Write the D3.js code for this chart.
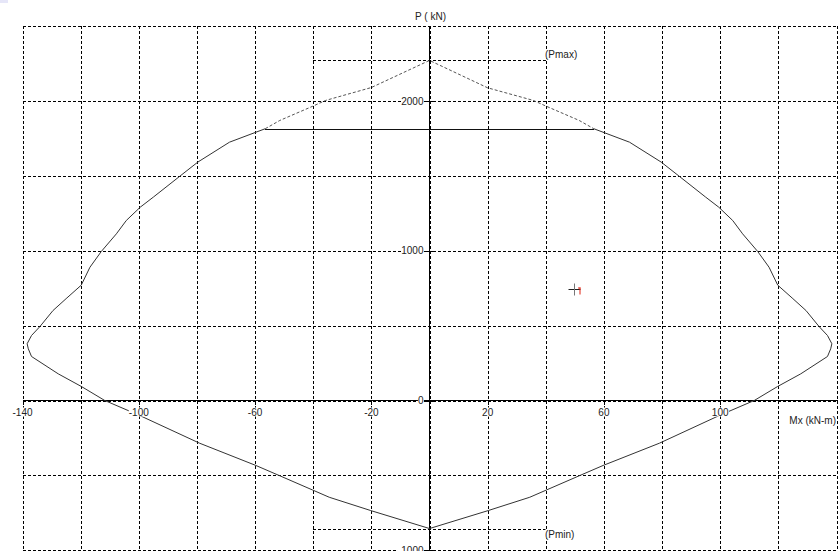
<!DOCTYPE html>
<html><head><meta charset="utf-8">
<script src="https://cdn.jsdelivr.net/npm/d3@7"></script>
<style>html,body{margin:0;padding:0;background:#fff;}svg{display:block;}</style>
</head><body>
<svg id="c" width="838" height="551"></svg>
<script>
// ---- data ----
const curveM = [56.5, 68.8, 79.7, 86, 95, 99.5, 104.3, 107.7, 112.9, 116.8, 119.8, 125, 129.5, 134, 136.9, 138.4, 138, 136.9, 127.7, 119.7, 111.7, 99.7, 79.1, 59.7, 51.7, 40.3, 34.5, 20.2, 0,
  -20.2, -34.5, -40.3, -51.7, -59.7, -79.1, -99.7, -111.7, -119.7, -127.7, -136.9, -138, -138.4, -136.9, -134, -129.5, -125, -119.8, -116.8, -112.9, -107.7, -104.3, -99.5, -95, -86, -79.7, -68.8, -56.5];
const curveP = [1815, 1725, 1592, 1496, 1358, 1291, 1202, 1113, 995, 890, 770, 680, 601, 494, 434, 379, 345, 294, 178, 93, 0, -100, -285, -434, -501, -597, -646, -735, -855,
  -735, -646, -597, -501, -434, -285, -100, 0, 93, 178, 294, 345, 379, 434, 494, 601, 680, 770, 890, 995, 1113, 1202, 1291, 1358, 1496, 1592, 1725, 1815];
const capM = [-56.5, 56.5];
const capP = [1815, 1815];
const topM = [-56.5, -51.5, -40.3, -35.7, -20, 0, 20, 35.7, 40.3, 51.5, 56.5];
const topP = [1815, 1870, 1964, 2004, 2090, 2271, 2088, 2004, 1964, 1870, 1815];
const Pmax = 2271, Pmin = -855;
const limitM = [-40, 40];
const pointM = [49.8], pointP = [746];
const xTicks = [-140, -100, -60, -20, 20, 60, 100];
const yTicks = [2000, 1000, 0, -1000];
const xGrid = d3.range(-140, 141, 20);
const yGrid = d3.range(-1000, 2501, 500);
const xTitle = "Mx (kN-m)", yTitle = "P ( kN)";

// ---- scales ----
const svg = d3.select("#c");
const x = d3.scaleLinear().domain([-140, 140]).range([22.5, 836.5]);
const y = d3.scaleLinear().domain([0, 2000]).range([400.5, 101]);
const font = "Liberation Sans, Arial, sans-serif";

svg.append("rect").attr("x",0).attr("y",0).attr("width",8).attr("height",3).attr("fill","#e6e6f8");

// grid
const dash = "3,2";
svg.append("g").selectAll("line").data(xGrid).join("line")
  .attr("x1", d => Math.round(x(d)) + 0.5).attr("x2", d => Math.round(x(d)) + 0.5)
  .attr("y1", y(2500)).attr("y2", 551)
  .attr("stroke", "#000").attr("stroke-dasharray", dash).attr("shape-rendering","crispEdges");
svg.append("g").selectAll("line").data(yGrid).join("line")
  .attr("x1", x(-140)).attr("x2", 838)
  .attr("y1", d => Math.round(y(d)) + 0.5).attr("y2", d => Math.round(y(d)) + 0.5)
  .attr("stroke", "#000").attr("stroke-dasharray", dash).attr("shape-rendering","crispEdges");

// Pmax/Pmin limit lines
[Pmax, Pmin].forEach(p => {
  svg.append("line").attr("x1", x(limitM[0])).attr("x2", x(limitM[1]))
    .attr("y1", Math.round(y(p)) + 0.5).attr("y2", Math.round(y(p)) + 0.5)
    .attr("stroke", "#000").attr("stroke-dasharray", dash).attr("shape-rendering","crispEdges");
});

// axes
svg.append("line").attr("x1", x(-140)).attr("x2", 838).attr("y1", y(0)).attr("y2", y(0))
  .attr("stroke", "#000").attr("shape-rendering","crispEdges");
svg.append("line").attr("x1", x(0)).attr("x2", x(0)).attr("y1", y(2500)).attr("y2", 551)
  .attr("stroke", "#000").attr("shape-rendering","crispEdges");
svg.append("g").selectAll("line").data(xTicks).join("line")
  .attr("x1", d => Math.round(x(d)) + 0.5).attr("x2", d => Math.round(x(d)) + 0.5)
  .attr("y1", y(0)).attr("y2", y(0) + 4).attr("stroke", "#000").attr("shape-rendering","crispEdges");
svg.append("g").selectAll("line").data(yTicks).join("line")
  .attr("x1", x(0) - 4).attr("x2", x(0) + 4)
  .attr("y1", d => Math.round(y(d)) + 0.5).attr("y2", d => Math.round(y(d)) + 0.5)
  .attr("stroke", "#000").attr("shape-rendering","crispEdges");

// curve
const line = d3.line().x(d => x(d[0])).y(d => y(d[1]));
svg.append("path").attr("d", line(d3.zip(curveM, curveP)))
  .attr("fill", "none").attr("stroke", "#333").attr("stroke-width", 1);
svg.append("path").attr("d", line(d3.zip(capM, capP)))
  .attr("fill", "none").attr("stroke", "#111").attr("stroke-width", 1).attr("shape-rendering","crispEdges")
  .attr("transform","translate(0,0.5)");
svg.append("path").attr("d", line(d3.zip(topM, topP)))
  .attr("fill", "none").attr("stroke", "#555").attr("stroke-width", 1).attr("stroke-dasharray", "3,2");

// marker
pointM.forEach((m, i) => {
  const px = Math.round(x(m)) + 0.5, py = Math.round(y(pointP[i])) + 0.5;
  svg.append("line").attr("x1", px - 6).attr("x2", px + 6).attr("y1", py).attr("y2", py).attr("stroke", "#222");
  svg.append("line").attr("x1", px).attr("x2", px).attr("y1", py - 6).attr("y2", py + 6).attr("stroke", "#777");
  svg.append("line").attr("x1", px + 5.5).attr("x2", px + 5.5).attr("y1", py - 2).attr("y2", py + 5).attr("stroke", "#e02010");
  svg.append("line").attr("x1", px + 3.5).attr("x2", px + 6).attr("y1", py - 1.5).attr("y2", py - 1.5).attr("stroke", "#e02010");
});

// text helper with white background
function label(tx, ty, str, anchor) {
  const t = svg.append("text").attr("x", tx).attr("y", ty).attr("text-anchor", anchor)
    .attr("dominant-baseline", "central").attr("font-family", font).attr("font-size", 10)
    .attr("fill", "#222").text(str);
  const b = t.node().getBBox();
  svg.insert("rect", () => t.node()).attr("x", b.x).attr("y", b.y + 1).attr("width", b.width).attr("height", b.height - 2).attr("fill", "#fff");
  return t;
}
xTicks.forEach(d => label(x(d), 412, String(d), "middle"));
yTicks.forEach(d => label(x(0) - 6, y(d), String(d), "end"));
label(545, 54, "(Pmax)", "start");
label(545, 534, "(Pmin)", "start");
label(x(0) + 1, 16, yTitle, "middle");
label(836, 420, xTitle, "end");
</script>
</body></html>
